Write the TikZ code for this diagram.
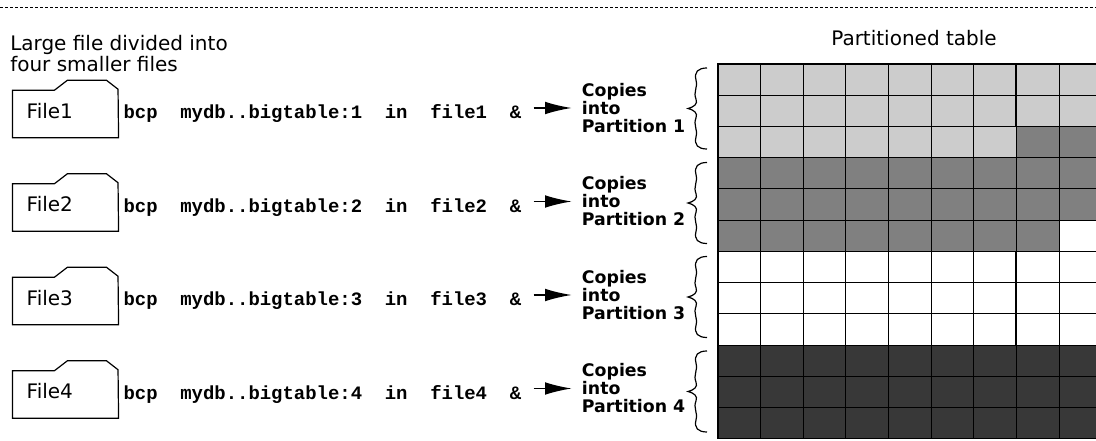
\documentclass[tikz,border=0pt]{standalone}
\usepackage{fontspec}
\setmainfont{DejaVu Sans}
\newfontfamily\cmdfont{Liberation Mono}
\usetikzlibrary{arrows.meta}
\definecolor{lightdots}{gray}{0.80}
\definecolor{middots}{gray}{0.50}
\definecolor{darkdots}{gray}{0.22}
\begin{document}
\begin{tikzpicture}[x=0.75pt, y=-0.75pt,
    file/.style={minimum height=35.25pt, text width=58.2pt, inner xsep=10.5pt, inner ysep=0pt, text depth=5.25pt, align=left, font=\fontsize{15}{15}\selectfont},
    folder/.style={line width=0.9pt},
    cmd/.style={anchor=base west, inner sep=0pt, font=\cmdfont\bfseries\fontsize{14.2}{15}\selectfont},
    copy/.style={anchor=west, inner sep=0pt, align=left, font=\bfseries\fontsize{13}{13.5}\selectfont},
    load/.style={-{Latex[length=20pt,width=9.5pt]}, line width=1.2pt, shorten <=9pt, shorten >=7.5pt},
    cell/.style={line width=0.75pt},
    wavybrace/.pic={\draw[line width=0.9pt] (19,0) .. controls (10,0) and (6,4) .. (8,12)
        .. controls (10,20) and (5,24) .. (8,31) .. controls (10,36) and (6,39) .. (0,40.5)
        .. controls (6,42) and (10,45) .. (8,50) .. controls (5,57) and (10,61) .. (8,69)
        .. controls (6,77) and (10,81) .. (19,81);}]
    \useasboundingbox (0,0) rectangle (1096,441);
    \draw[dash pattern=on 2.25pt off 1.5pt, line width=0.75pt] (0,8) -- (1096,8);

    %Titles
    \node[anchor=north west, inner sep=0pt, align=left, font=\fontsize{15}{14.25}\selectfont] at (10, 35.5) (intro) {Large file divided into\\four smaller files};
    \node[anchor=base, inner sep=0pt, font=\fontsize{15}{15}\selectfont] at (914, 46) (title) {Partitioned table};

    %Files
    \node[file] at (65.5, 114) (file1) {File1};
    \node[file] at (65.5, 207.5) (file2) {File2};
    \node[file] at (65.5, 301) (file3) {File3};
    \node[file] at (65.5, 394.5) (file4) {File4};
    \draw[folder] (file1.south west) -- (file1.north west) -- ++(42,0) -- ++(13,-10) -- ++(39,0) -- ++(11.6,9) -- (file1.south east) -- cycle;
    \draw[folder] (file2.south west) -- (file2.north west) -- ++(42,0) -- ++(13,-10) -- ++(39,0) -- ++(11.6,9) -- (file2.south east) -- cycle;
    \draw[folder] (file3.south west) -- (file3.north west) -- ++(42,0) -- ++(13,-10) -- ++(39,0) -- ++(11.6,9) -- (file3.south east) -- cycle;
    \draw[folder] (file4.south west) -- (file4.north west) -- ++(42,0) -- ++(13,-10) -- ++(39,0) -- ++(11.6,9) -- (file4.south east) -- cycle;

    %Commands
    \node[cmd] at (123.3, 119) (cmd1) {bcp\ \ mydb..bigtable:1\ \ in\ \ file1\ \ \&};
    \node[cmd] at (123.3, 212.5) (cmd2) {bcp\ \ mydb..bigtable:2\ \ in\ \ file2\ \ \&};
    \node[cmd] at (123.3, 306) (cmd3) {bcp\ \ mydb..bigtable:3\ \ in\ \ file3\ \ \&};
    \node[cmd] at (123.3, 399.5) (cmd4) {bcp\ \ mydb..bigtable:4\ \ in\ \ file4\ \ \&};

    \node[copy] at (581.7, 108) (copy1) {Copies\\into\\Partition 1};
    \node[copy] at (581.7, 201.5) (copy2) {Copies\\into\\Partition 2};
    \node[copy] at (581.7, 295) (copy3) {Copies\\into\\Partition 3};
    \node[copy] at (581.7, 388.5) (copy4) {Copies\\into\\Partition 4};

    %Lines
    \draw[load] (cmd1.east |- copy1.west) -- (copy1.west);
    \draw[load] (cmd2.east |- copy2.west) -- (copy2.west);
    \draw[load] (cmd3.east |- copy3.west) -- (copy3.west);
    \draw[load] (cmd4.east |- copy4.west) -- (copy4.west);

    \pic at (688, 68) {wavybrace};
    \pic at (688, 162.5) {wavybrace};
    \pic at (688, 256.5) {wavybrace};
    \pic at (688, 351) {wavybrace};

    %Table
    \fill[lightdots] (718,64) -- (1096,64) -- (1096,126.5) -- (1016.4,126.5) -- (1016.4,157.75) -- (718,157.75) -- cycle;
    \fill[middots] (718,157.75) -- (1016.4,157.75) -- (1016.4,126.5) -- (1096,126.5) -- (1096,220.25) -- (1059,220.25) -- (1059,251.5) -- (718,251.5) -- cycle;
    \fill[darkdots] (718,345.25) rectangle (1096,439);
    \foreach \i in {0,...,8}
        \draw[cell] (718+42.625*\i, 64) -- (718+42.625*\i, 439);
    \foreach \j in {0,...,12}
        \draw[cell] (718, 64+31.25*\j) -- (1096, 64+31.25*\j);
    \draw[line width=1.5pt] (1096,64) -- (718,64) -- (718,439);
    \draw[line width=1.5pt] (1016.4,64) -- (1016.4,126.5) (1016.4,251.5) -- (1016.4,345.25);
\end{tikzpicture}
\end{document}
